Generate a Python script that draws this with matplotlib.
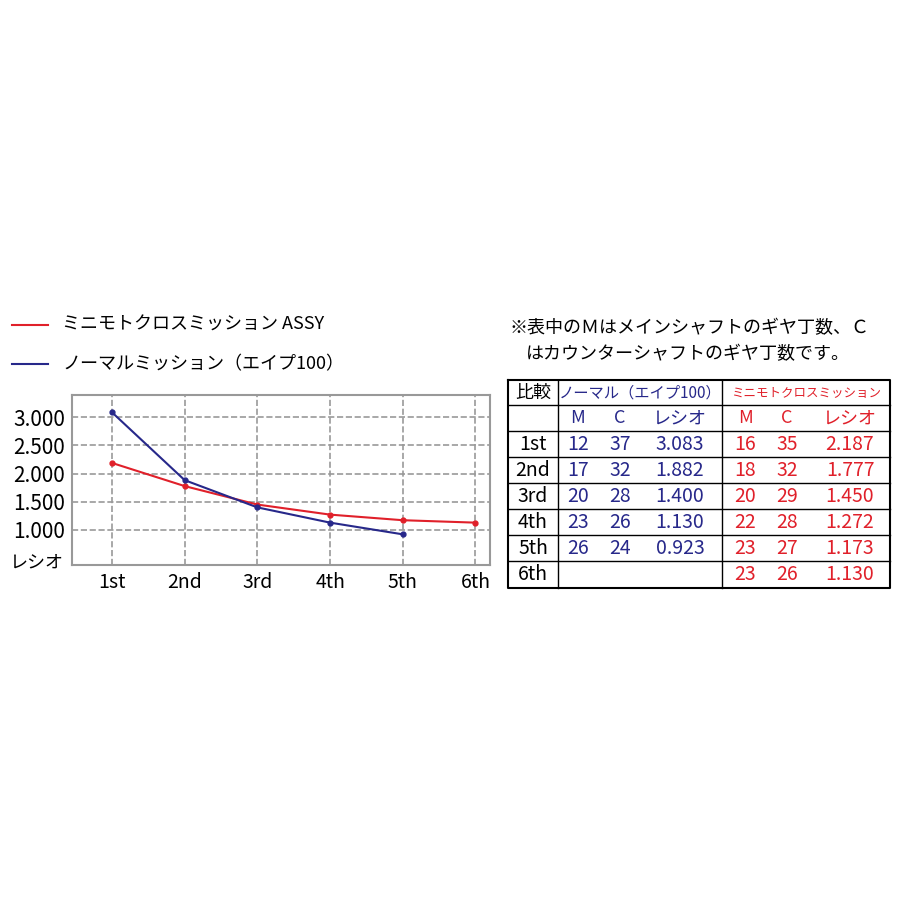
import matplotlib
matplotlib.use("Agg")
import matplotlib.pyplot as plt
from matplotlib.lines import Line2D

plt.rcParams['font.family'] = ['Noto Sans CJK JP', 'DejaVu Sans']

gears = ["1st", "2nd", "3rd", "4th", "5th", "6th"]
mini_ratio = [2.187, 1.777, 1.450, 1.272, 1.173, 1.130]
normal_ratio = [3.083, 1.882, 1.400, 1.130, 0.923]
normal_M = [12, 17, 20, 23, 26]
normal_C = [37, 32, 28, 26, 24]
mini_M = [16, 18, 20, 22, 23, 23]
mini_C = [35, 32, 29, 28, 27, 26]
yticks = [3.0, 2.5, 2.0, 1.5, 1.0]

RED = "#e0202a"
BLUE = "#27288a"

fig = plt.figure(figsize=(9, 9), dpi=100)

fig.add_artist(Line2D([12/900, 48/900], [1-325/900]*2, color=RED, lw=1.5))
fig.add_artist(Line2D([12/900, 48/900], [1-364/900]*2, color=BLUE, lw=1.5))
fig.text(62/900, 1-325/900, "ミニモトクロスミッション ASSY", fontsize=13, va="center")
fig.text(62/900, 1-364/900, "ノーマルミッション（エイプ100）", fontsize=13, va="center")
fig.text(510/900, 1-328/900, "※表中のＭはメインシャフトのギヤ丁数、Ｃ", fontsize=13, va="center")
fig.text(526/900, 1-354/900, "はカウンターシャフトのギヤ丁数です。", fontsize=13, va="center")

ax = fig.add_axes([72/900, 1-565/900, 418/900, 170/900])
x = list(range(len(gears)))
ax.plot(x, mini_ratio, color=RED, lw=1.5, marker="o", ms=3.5)
ax.plot(x[:len(normal_ratio)], normal_ratio, color=BLUE, lw=1.5, marker="o", ms=3.5)
ax.set_xlim(-0.55, 5.2)
ax.set_ylim(0.38, 3.39)
ax.set_xticks(x)
ax.set_xticklabels(gears, fontsize=14)
ax.set_yticks(yticks)
ax.set_yticklabels([f"{v:.3f}" for v in yticks], fontsize=15)
ax.tick_params(length=0, pad=5)
ax.grid(True, color="#999999", ls="--", lw=1.2)
for s in ax.spines.values():
    s.set_color("#999999")
    s.set_linewidth(1.5)
fig.text(10/900, 1-562/900, "レシオ", fontsize=13, va="center")

tx = fig.add_axes([0, 0, 1, 1], zorder=-1)
tx.set_xlim(0, 900); tx.set_ylim(900, 0); tx.axis("off")
L, C1, C2, R = 508, 558, 722, 890
top, bot = 380, 588
rows = [405, 431, 457, 483, 509, 535, 561]
tx.plot([L, R, R, L, L], [top, top, bot, bot, top], color="black", lw=1.5)
for yy in rows:
    tx.plot([L, R], [yy, yy], color="black", lw=1)
for xx in (C1, C2):
    tx.plot([xx, xx], [top, bot], color="black", lw=1)
tx.text(533, 393, "比較", fontsize=13, ha="center", va="center")
tx.text(640, 393, "ノーマル（エイプ100）", fontsize=11, ha="center", va="center", color=BLUE)
tx.text(806, 393, "ミニモトクロスミッション", fontsize=9, ha="center", va="center", color=RED)
for xx, t in zip([578, 620, 680], ["M", "C", "レシオ"]):
    tx.text(xx, 418, t, fontsize=13, ha="center", va="center", color=BLUE)
for xx, t in zip([745, 787, 850], ["M", "C", "レシオ"]):
    tx.text(xx, 418, t, fontsize=13, ha="center", va="center", color=RED)
for i, g in enumerate(gears):
    yc = 444 + 26 * i
    tx.text(533, yc, g, fontsize=14, ha="center", va="center")
    if i < len(normal_M):
        tx.text(578, yc, str(normal_M[i]), fontsize=14, ha="center", va="center", color=BLUE)
        tx.text(620, yc, str(normal_C[i]), fontsize=14, ha="center", va="center", color=BLUE)
        tx.text(680, yc, f"{normal_ratio[i]:.3f}", fontsize=14, ha="center", va="center", color=BLUE)
    tx.text(745, yc, str(mini_M[i]), fontsize=14, ha="center", va="center", color=RED)
    tx.text(787, yc, str(mini_C[i]), fontsize=14, ha="center", va="center", color=RED)
    tx.text(850, yc, f"{mini_ratio[i]:.3f}", fontsize=14, ha="center", va="center", color=RED)

fig.savefig("out.png", dpi=100)
